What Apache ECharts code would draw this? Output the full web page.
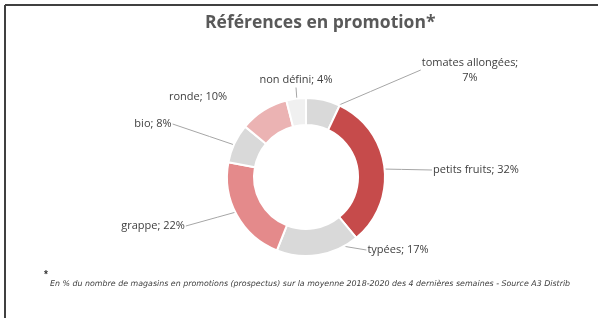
<!DOCTYPE html>
<html>
<head>
<meta charset="utf-8">
<script src="https://cdn.jsdelivr.net/npm/echarts@6/dist/echarts.min.js"></script>
<style>
  html, body { margin: 0; padding: 0; background: #fff; }
  #chart { width: 598px; height: 318px; }
</style>
</head>
<body>
<div id="chart"></div>
<script>
// parts des références en promotion (%), dans l'ordre horaire depuis midi
var categories = ['tomates allongées', 'petits fruits', 'typées', 'grappe', 'bio', 'ronde', 'non défini']
var values = [7, 32, 17, 22, 8, 10, 4]
var colors = ['#d9d9d9', '#c64b4b', '#d9d9d9', '#e48a8b', '#d9d9d9', '#ebb3b3', '#f0f0f0']

var footnote = 'En % du nombre de magasins en promotions (prospectus) sur la moyenne 2018-2020 des 4 dernières semaines - Source A3 Distrib'

var chart = echarts.init(document.getElementById('chart'))

var cx = 306, cy = 177
var rIn = 52, rOut = 79

var pieData = categories.map(function(name, i) {
  var item = { name: name, value: values[i], itemStyle: { color: colors[i] } }
  if (name === 'ronde') item.labelLine = { show: false } // pas de trait, l'étiquette touche presque la part
  return item
})

// où poser chaque étiquette (centre du texte), comme sur le graphique d'origine
var labelSpots = [[470, 70], [476, 170], [398, 250], [153, 226], [153, 124], [198, 97], [296, 80]]

// angle du milieu de chaque part (degrés, sens trigo, départ à midi et sens horaire)
var total = values.reduce(function(a, b) { return a + b }, 0)
function midAngle(idx) {
  var before = 0
  for (var k = 0; k < idx; k++) before += values[k]
  return (90 - 360 * (before + values[idx] / 2) / total) * Math.PI / 180
}

var option = {
  animation: false,
  title: {
    text: 'Références en promotion*',
    left: 200,
    top: 9,
    textStyle: {
      fontFamily: 'Open Sans',
      fontSize: 17.5,
      fontWeight: 'bold',
      color: '#595959'
    }
  },
  graphic: [
    { type: 'line', shape: { x1: 5, y1: 5, x2: 598, y2: 5 }, style: { stroke: '#404040', lineWidth: 2 } },
    { type: 'line', shape: { x1: 5, y1: 5, x2: 5, y2: 318 }, style: { stroke: '#404040', lineWidth: 2 } },
    { type: 'text', left: 44, top: 270, style: { text: '*', fontSize: 10, fontWeight: 'bold', fill: '#333' } },
    { type: 'text', left: 50, top: 280, style: { text: footnote, fontSize: 7.9, fontStyle: 'italic', fontFamily: 'DejaVu Sans', fill: '#404040' } }
  ],
  series: [
    {
      type: 'pie',
      center: [cx, cy],
      radius: [rIn, rOut],
      startAngle: 90,
      data: pieData,
      itemStyle: { borderColor: '#fff', borderWidth: 2 },
      label: {
        show: true,
        formatter: function(p) {
          return p.name.length > 15 ? p.name + ';\n' + p.value + '%' : p.name + '; ' + p.value + '%'
        },
        fontFamily: 'Open Sans',
        fontSize: 11,
        color: '#404040',
        align: 'center',
        lineHeight: 15
      },
      labelLine: {
        show: true,
        lineStyle: { color: '#a6a6a6', width: 1 }
      },
      labelLayout: function(params) {
        var i = params.dataIndex
        var spot = labelSpots[i]
        var w = params.labelRect.width, h = params.labelRect.height
        // trait droit depuis le milieu de l'anneau jusqu'au bord le plus proche du texte
        var a = midAngle(i)
        var rm = (rIn + rOut) / 2
        var sx = cx + rm * Math.cos(a), sy = cy - rm * Math.sin(a)
        var ex, ey
        if (Math.abs(spot[0] - cx) < w / 2) {
          ex = spot[0]; ey = spot[1] + h / 2
        } else if (spot[0] > cx) {
          ex = spot[0] - w / 2 - 1; ey = spot[1]
        } else {
          ex = spot[0] + w / 2 + 1; ey = spot[1]
        }
        return {
          x: spot[0], y: spot[1], align: 'center', verticalAlign: 'middle',
          labelLinePoints: [[sx, sy], [(sx + ex) / 2, (sy + ey) / 2], [ex, ey]]
        }
      }
    }
  ]
}

chart.setOption(option)
</script>
</body>
</html>
